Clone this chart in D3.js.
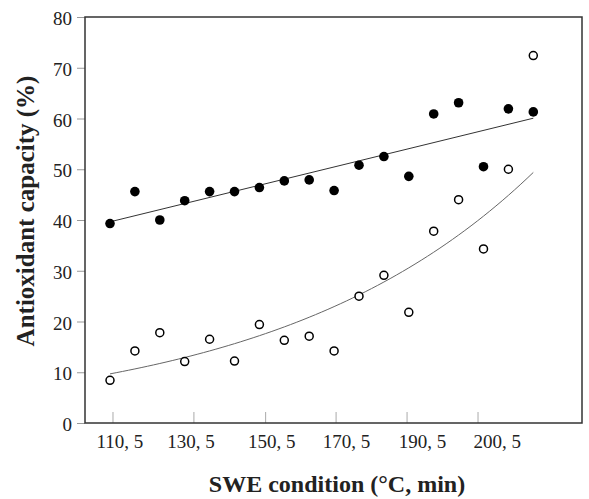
<!DOCTYPE html>
<html>
<head>
<meta charset="utf-8">
<script src="https://cdn.jsdelivr.net/npm/d3@7"></script>
<style>
  body { margin: 0; background: #fff; }
  svg text { font-family: "Liberation Serif", "Times New Roman", serif; }
</style>
</head>
<body>
<svg id="chart" width="589" height="499"></svg>
<script>
// data (18 extraction runs, in order)
var filled = [39.3, 45.6, 40.0, 43.8, 45.6, 45.6, 46.4, 47.7, 47.9, 45.8, 50.8, 52.5, 48.6, 60.9, 63.1, 50.5, 61.9, 61.3];
var open = [8.4, 14.2, 17.8, 12.1, 16.5, 12.2, 19.4, 16.3, 17.1, 14.2, 25.0, 29.1, 21.8, 37.8, 44.0, 34.3, 50.0, 72.4];
var xLabels = ["110, 5", "130, 5", "150, 5", "170, 5", "190, 5", "200, 5"];
var xTickPos = [0.12, 3.37, 6.25, 9.08, 11.93, 14.78];
var xLabelPos = [0.4, 3.25, 6.5, 9.5, 12.55, 15.55];
var yTicks = [0, 10, 20, 30, 40, 50, 60, 70, 80];

var svg = d3.select("#chart");
var plotL = 85, plotR = 582, plotT = 17, plotB = 423;

var x = d3.scaleLinear().domain([0, 17]).range([110, 533.3]);
var y = d3.scaleLinear().domain([0, 80]).range([plotB, plotT]);

// linear fit on filled, exponential fit (log-linear) on open
function linfit(vals) {
    var mx = d3.mean(vals, function(d, i) { return i; }), my = d3.mean(vals);
    var sxy = 0, sxx = 0;
    vals.forEach(function(v, i) { sxy += (i - mx) * (v - my); sxx += (i - mx) * (i - mx); });
    var b = sxy / sxx;
    return {a: my - b * mx, b: b};
}
var lf = linfit(filled);
var ef = linfit(open.map(Math.log));

// y axis
var yAxis = svg.append("g")
    .attr("transform", "translate(" + plotL + ",0)")
    .call(d3.axisLeft(y).tickValues(yTicks).tickSize(8).tickPadding(5));
yAxis.select(".domain").remove();
yAxis.selectAll(".tick line").attr("stroke", "#999");
yAxis.selectAll("text").attr("font-size", 19).attr("fill", "#222")
    .attr("dy", "0.4em")
    .style("font-family", "Liberation Serif");

// x ticks (inside, pointing up)
svg.append("g").selectAll("line")
    .data(xTickPos)
    .join("line")
    .attr("x1", function(d) { return x(d); })
    .attr("x2", function(d) { return x(d); })
    .attr("y1", plotB)
    .attr("y2", plotB - 11)
    .attr("stroke", "#aaa")
    .attr("stroke-width", 1);

svg.append("g").selectAll("text")
    .data(xLabels)
    .join("text")
    .attr("x", function(d, i) { return x(xLabelPos[i]); })
    .attr("y", 448)
    .attr("text-anchor", "middle")
    .attr("font-size", 19)
    .attr("fill", "#222")
    .text(function(d) { return d; });

// frame
svg.append("rect")
    .attr("x", plotL).attr("y", plotT)
    .attr("width", plotR - plotL).attr("height", plotB - plotT)
    .attr("fill", "none")
    .attr("stroke", "#333")
    .attr("stroke-width", 1.5);

// trend lines
var idx = d3.range(0, 17.001, 0.25);
svg.append("path")
    .attr("d", d3.line()
        .x(function(d) { return x(d); })
        .y(function(d) { return y(lf.a + lf.b * d); })([0, 17]))
    .attr("fill", "none").attr("stroke", "#333").attr("stroke-width", 1);

svg.append("path")
    .attr("d", d3.line()
        .x(function(d) { return x(d); })
        .y(function(d) { return y(Math.exp(ef.a + ef.b * d)); })(idx))
    .attr("fill", "none").attr("stroke", "#666").attr("stroke-width", 1);

// points
svg.append("g").selectAll("circle")
    .data(filled)
    .join("circle")
    .attr("cx", function(d, i) { return x(i); })
    .attr("cy", function(d) { return y(d); })
    .attr("r", 4.8)
    .attr("fill", "#000");

svg.append("g").selectAll("circle")
    .data(open)
    .join("circle")
    .attr("cx", function(d, i) { return x(i); })
    .attr("cy", function(d) { return y(d); })
    .attr("r", 4)
    .attr("fill", "#fff")
    .attr("stroke", "#000")
    .attr("stroke-width", 1.5);

// titles
svg.append("text")
    .attr("transform", "translate(34,211)rotate(-90)")
    .attr("text-anchor", "middle")
    .attr("font-size", 25)
    .attr("font-weight", "bold")
    .attr("fill", "#222")
    .text("Antioxidant capacity (%)");

svg.append("text")
    .attr("x", 337)
    .attr("y", 492)
    .attr("text-anchor", "middle")
    .attr("font-size", 24)
    .attr("font-weight", "bold")
    .attr("fill", "#222")
    .text("SWE condition (°C, min)");
</script>
</body>
</html>
